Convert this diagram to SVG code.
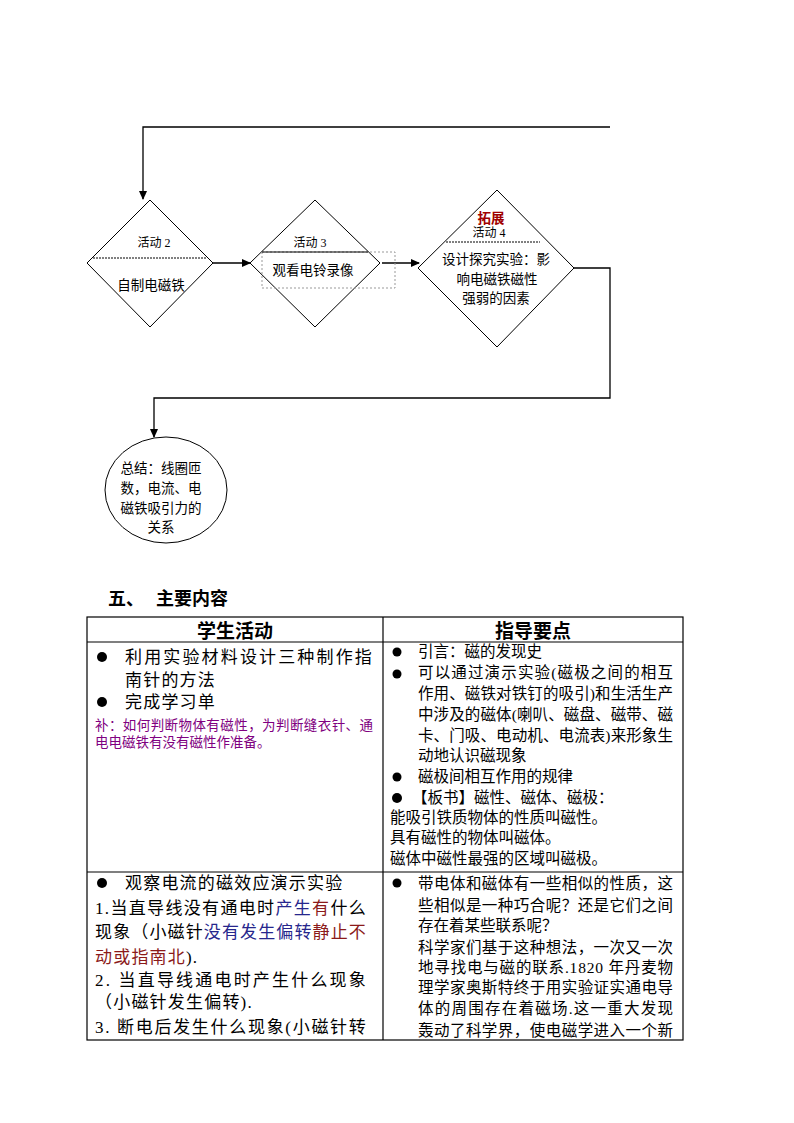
<svg xmlns="http://www.w3.org/2000/svg" width="794" height="1123" viewBox="0 0 794 1123">
<style>
.shape{fill:#fff;stroke:#000;stroke-width:1}
.line{fill:none;stroke:#000;stroke-width:1.3}
.t{font-family:"Liberation Serif","Noto Sans CJK SC",serif;fill:#000}
.d{font-size:13.5px;text-anchor:middle}
.s{font-size:12px;text-anchor:middle}
.tb{font-size:15.5px}
.lc{font-size:17px;letter-spacing:1.2px}
.hd{font-size:19px;font-weight:bold;text-anchor:middle}
.grid{fill:none;stroke:#000;stroke-width:1.2}
.red{fill:#a00000}
.purple{fill:#800080}
.navy{fill:#26268c}
.maroon{fill:#8b1a1a}
</style>
<defs>
<marker id="arr" markerWidth="9" markerHeight="8" refX="8" refY="4" orient="auto" markerUnits="userSpaceOnUse">
<path d="M0,0 L9,4 L0,8 Z" fill="#000"/>
</marker>
</defs>
<rect width="794" height="1123" fill="#fff"/>

<g id="connectors">
<path class="line" d="M610,127 H143 V199" marker-end="url(#arr)"/>
<path class="line" d="M213,263 H250" marker-end="url(#arr)"/>
<path class="line" d="M382,263 H419" marker-end="url(#arr)"/>
<path class="line" d="M574,268 H610 V398 H154 V437" marker-end="url(#arr)"/>
</g>

<g id="activity2">
<polygon class="shape" points="150,200 213,263 150,327 87,263"/>
<line x1="93" y1="258" x2="207" y2="258" stroke="#000" stroke-width="1" stroke-dasharray="2,1"/>
<text class="t s" x="154" y="247">活动 2</text>
<text class="t d" x="151" y="290">自制电磁铁</text>
</g>

<g id="activity3">
<polygon class="shape" points="315,200 380,263 315,327 250,263"/>
<rect x="262" y="252" width="133" height="36" fill="none" stroke="#999" stroke-width="1" stroke-dasharray="2,2"/>
<line x1="262" y1="252" x2="368" y2="252" stroke="#000" stroke-width="1"/>
<text class="t s" x="310" y="247">活动 3</text>
<text class="t d" x="313" y="275">观看电铃录像</text>
</g>

<g id="activity4">
<polygon class="shape" points="497,190 574,268 497,347 418,268"/>
<line x1="446" y1="242" x2="540" y2="242" stroke="#000" stroke-width="1" stroke-dasharray="2,1"/>
<text class="t d red" x="491" y="223" font-weight="bold">拓展</text>
<text class="t s" x="489" y="237">活动 4</text>
<text class="t d" x="496" y="264">设计探究实验：影</text>
<text class="t d" x="497" y="284">响电磁铁磁性</text>
<text class="t d" x="496" y="303">强弱的因素</text>
</g>

<g id="summary">
<ellipse class="shape" cx="166" cy="490" rx="61" ry="53"/>
<text class="t d" x="161" y="473">总结：线圈匝</text>
<text class="t d" x="161" y="493">数，电流、电</text>
<text class="t d" x="161" y="513">磁铁吸引力的</text>
<text class="t d" x="161" y="532">关系</text>
</g>

<g id="heading">
<text class="t" x="108" y="605" font-size="18px" font-weight="bold">五、</text>
<text class="t" x="156" y="605" font-size="18px" font-weight="bold">主要内容</text>
</g>

<g id="table">
<rect class="grid" x="87" y="617" width="596" height="423"/>
<line class="grid" x1="87" y1="642" x2="683" y2="642"/>
<line class="grid" x1="87" y1="872" x2="683" y2="872"/>
<line class="grid" x1="383" y1="617" x2="383" y2="1040"/>
<text class="t hd" x="235" y="638">学生活动</text>
<text class="t hd" x="533" y="638">指导要点</text>

<g id="cell-left-1">
<circle cx="102" cy="657" r="5"/>
<text class="t lc" x="125" y="663" textLength="248" lengthAdjust="spacing">利用实验材料设计三种制作指</text>
<text class="t lc" x="125" y="686">南针的方法</text>
<circle cx="102" cy="702" r="5"/>
<text class="t lc" x="125" y="708">完成学习单</text>
<text class="t purple" x="95" y="730" font-size="13.5px" textLength="278" lengthAdjust="spacing">补：如何判断物体有磁性，为判断缝衣针、通</text>
<text class="t purple" x="95" y="747" font-size="13.5px">电电磁铁有没有磁性作准备。</text>
</g>

<g id="cell-right-1">
<circle cx="397" cy="652" r="4.5"/>
<text class="t tb" x="418" y="657">引言：磁的发现史</text>
<circle cx="397" cy="674" r="4.5"/>
<text class="t tb" x="418" y="678" textLength="255" lengthAdjust="spacing">可以通过演示实验(磁极之间的相互</text>
<text class="t tb" x="418" y="699" textLength="255" lengthAdjust="spacing">作用、磁铁对铁钉的吸引)和生活生产</text>
<text class="t tb" x="418" y="720" textLength="255" lengthAdjust="spacing">中涉及的磁体(喇叭、磁盘、磁带、磁</text>
<text class="t tb" x="418" y="741" textLength="255" lengthAdjust="spacing">卡、门吸、电动机、电流表)来形象生</text>
<text class="t tb" x="418" y="761">动地认识磁现象</text>
<circle cx="397" cy="777" r="4.5"/>
<text class="t tb" x="418" y="782">磁极间相互作用的规律</text>
<circle cx="397" cy="798" r="5"/>
<text class="t tb" x="412" y="803">【板书】磁性、磁体、磁极：</text>
<text class="t tb" x="390" y="823">能吸引铁质物体的性质叫磁性。</text>
<text class="t tb" x="390" y="843">具有磁性的物体叫磁体。</text>
<text class="t tb" x="390" y="864">磁体中磁性最强的区域叫磁极。</text>
</g>

<g id="cell-left-2">
<circle cx="102" cy="883" r="5"/>
<text class="t lc" x="125" y="889">观察电流的磁效应演示实验</text>
<text class="t lc" x="95" y="914" textLength="272" lengthAdjust="spacing">1.当直导线没有通电时<tspan class="navy">产生</tspan><tspan class="maroon">有</tspan>什么</text>
<text class="t lc" x="95" y="938" textLength="272" lengthAdjust="spacing">现象（小磁针<tspan class="navy">没有发生偏转</tspan><tspan class="maroon">静止不</tspan></text>
<text class="t lc" x="95" y="963"><tspan class="maroon">动或指南北</tspan>).</text>
<text class="t lc" x="95" y="986" textLength="272" lengthAdjust="spacing">2. 当直导线通电时产生什么现象</text>
<text class="t lc" x="95" y="1008">（小磁针发生偏转).</text>
<text class="t lc" x="95" y="1033" textLength="272" lengthAdjust="spacing">3. 断电后发生什么现象(小磁针转</text>
</g>

<g id="cell-right-2">
<circle cx="397" cy="883" r="4.5"/>
<text class="t tb" x="418" y="889" textLength="255" lengthAdjust="spacing">带电体和磁体有一些相似的性质，这</text>
<text class="t tb" x="418" y="911" textLength="255" lengthAdjust="spacing">些相似是一种巧合呢？还是它们之间</text>
<text class="t tb" x="418" y="931">存在着某些联系呢？</text>
<text class="t tb" x="418" y="953" textLength="255" lengthAdjust="spacing">科学家们基于这种想法，一次又一次</text>
<text class="t tb" x="418" y="973" textLength="255" lengthAdjust="spacing">地寻找电与磁的联系.1820 年丹麦物</text>
<text class="t tb" x="418" y="993" textLength="255" lengthAdjust="spacing">理学家奥斯特终于用实验证实通电导</text>
<text class="t tb" x="418" y="1014" textLength="255" lengthAdjust="spacing">体的周围存在着磁场.这一重大发现</text>
<text class="t tb" x="418" y="1036" textLength="255" lengthAdjust="spacing">轰动了科学界，使电磁学进入一个新</text>
</g>
</g>
</svg>
